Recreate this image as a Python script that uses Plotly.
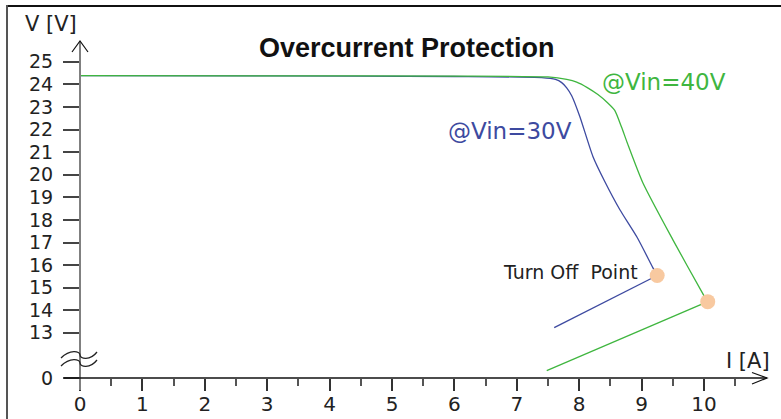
import plotly.graph_objects as go

# ---- data ----
blue_I = [0.0, 3.0, 6.0, 7.40, 7.62, 7.72, 7.80, 7.88, 8.01, 8.22, 8.41, 8.65, 8.93, 9.18, 9.25, 7.60]
blue_V = [24.39, 24.38, 24.35, 24.30, 24.22, 24.08, 23.85, 23.50, 22.58, 20.81, 19.70, 18.46, 17.22, 15.89, 15.54, 13.23]

green_I = [0.0, 3.0, 6.0, 7.50, 7.80, 7.96, 8.13, 8.30, 8.45, 8.57, 8.68, 8.77, 9.02, 9.50, 9.99, 10.06, 7.48]
green_V = [24.39, 24.38, 24.37, 24.33, 24.22, 24.10, 23.86, 23.55, 23.20, 22.85, 22.10, 21.42, 19.65, 17.13, 14.69, 14.38, 11.33]

turnoff_I = [9.25, 10.06]
turnoff_V = [15.54, 14.38]

x_ticks = [0, 1, 2, 3, 4, 5, 6, 7, 8, 9, 10]
y_tickvals = [11, 13, 14, 15, 16, 17, 18, 19, 20, 21, 22, 23, 24, 25]
y_ticktext = ["0", "13", "14", "15", "16", "17", "18", "19", "20", "21", "22", "23", "24", "25"]

# ---- layout geometry ----
W, H = 781, 419
L, R, T, B = 80, 767, 30, 378
XMIN, XMAX = 0.0, 11.01
YMIN = 11.0
YMAX = YMIN + (B - T) / 22.583


def px(x):
    return (x - L) / (R - L)


def py(y):
    return (B - y) / (B - T)


FONT = "DejaVu Sans"
TXT = "#222222"
BLUE = "#3d4aa0"
GREEN = "#3fb63f"

fig = go.Figure()
nb = len(blue_I) - 1
ng = len(green_I) - 1
fig.add_trace(go.Scatter(x=blue_I[:nb], y=blue_V[:nb], mode="lines",
                         line=dict(color=BLUE, width=1.3, shape="spline", smoothing=0.6), hoverinfo="skip"))
fig.add_trace(go.Scatter(x=blue_I[nb - 1:], y=blue_V[nb - 1:], mode="lines",
                         line=dict(color=BLUE, width=1.3), hoverinfo="skip"))
fig.add_trace(go.Scatter(x=green_I[:ng], y=green_V[:ng], mode="lines",
                         line=dict(color=GREEN, width=1.3, shape="spline", smoothing=0.6), hoverinfo="skip"))
fig.add_trace(go.Scatter(x=green_I[ng - 1:], y=green_V[ng - 1:], mode="lines",
                         line=dict(color=GREEN, width=1.3), hoverinfo="skip"))
fig.add_trace(go.Scatter(x=turnoff_I, y=turnoff_V, mode="markers",
                         marker=dict(color="#f8c9a0", size=15), hoverinfo="skip"))

shapes = []
# frame (top and left edges only; the rest lies outside the picture)
shapes.append(dict(type="line", xref="paper", yref="paper",
                   x0=px(6), x1=px(781), y0=py(6), y1=py(6),
                   line=dict(color="#111111", width=2)))
shapes.append(dict(type="line", xref="paper", yref="paper",
                   x0=px(7), x1=px(7), y0=py(5), y1=py(419),
                   line=dict(color="#555555", width=2)))
# y axis line
shapes.append(dict(type="line", xref="paper", yref="paper",
                   x0=px(80), x1=px(80), y0=py(390), y1=py(41),
                   line=dict(color="#808080", width=2)))
# y arrow
shapes.append(dict(type="path", xref="paper", yref="paper",
                   path=f"M {px(72)} {py(52)} L {px(80)} {py(41)} L {px(88)} {py(52)}",
                   line=dict(color="#111111", width=1.2)))
# x axis line
shapes.append(dict(type="line", xref="paper", yref="paper",
                   x0=px(64), x1=px(767), y0=py(378), y1=py(378),
                   line=dict(color="#111111", width=1.6)))
# x arrow
shapes.append(dict(type="path", xref="paper", yref="paper",
                   path=f"M {px(752)} {py(372.5)} L {px(767)} {py(378)} L {px(752)} {py(384)}",
                   line=dict(color="#111111", width=1.2)))
# axis break symbol
for oy in (353, 361):
    shapes.append(dict(type="path", xref="paper", yref="paper",
                       path=(f"M {px(61)} {py(oy+5)} C {px(70)} {py(oy-4)} {px(80)} {py(oy-2)} {px(80)} {py(oy+2)} "
                             f"C {px(80)} {py(oy+6)} {px(90)} {py(oy+8)} {px(97)} {py(oy-1)}"),
                       line=dict(color="#222222", width=1.3)))

annotations = [
    dict(text="<b>Overcurrent Protection</b>", x=px(407), y=py(48), xref="paper", yref="paper",
         showarrow=False, xanchor="center", yanchor="middle",
         font=dict(family="Liberation Sans", size=27, color="#111111")),
    dict(text="V [V]", x=px(51), y=py(24), xref="paper", yref="paper",
         showarrow=False, xanchor="center", yanchor="middle",
         font=dict(family=FONT, size=21, color=TXT)),
    dict(text="I [A]", x=px(748), y=py(361), xref="paper", yref="paper",
         showarrow=False, xanchor="center", yanchor="middle",
         font=dict(family=FONT, size=21, color=TXT)),
    dict(text="@Vin=40V", x=px(664), y=py(82), xref="paper", yref="paper",
         showarrow=False, xanchor="center", yanchor="middle",
         font=dict(family=FONT, size=23, color=GREEN)),
    dict(text="@Vin=30V", x=px(510), y=py(131), xref="paper", yref="paper",
         showarrow=False, xanchor="center", yanchor="middle",
         font=dict(family=FONT, size=23, color=BLUE)),
    dict(text="Turn Off  Point", x=px(570), y=py(272), xref="paper", yref="paper",
         showarrow=False, xanchor="center", yanchor="middle",
         font=dict(family=FONT, size=19, color=TXT)),
]

fig.update_layout(
    width=W, height=H, autosize=False,
    margin=dict(l=L, r=W - R, t=T, b=H - B, pad=0, autoexpand=False),
    paper_bgcolor="white", plot_bgcolor="white",
    showlegend=False,
    shapes=shapes, annotations=annotations,
    xaxis=dict(range=[XMIN, XMAX], tickvals=x_ticks, showgrid=False, zeroline=False,
               showline=False, automargin=False,
               ticks="outside", ticklen=12, tickwidth=1.5, tickcolor="#333333",
               tickfont=dict(family=FONT, size=20, color=TXT), ticklabelstandoff=-4,
               minor=dict(tickvals=[v + 0.5 for v in x_ticks], ticks="outside", ticklen=7,
                          tickwidth=1.5, tickcolor="#555555", showgrid=False),
               fixedrange=True),
    yaxis=dict(range=[YMIN, YMAX], tickvals=y_tickvals, ticktext=y_ticktext,
               showgrid=False, zeroline=False, showline=False, automargin=False,
               ticks="outside", ticklen=16, tickwidth=1.8, tickcolor="#444444",
               tickfont=dict(family=FONT, size=19, color=TXT), ticklabelstandoff=6,
               fixedrange=True),
)

fig.write_html("out.html", config={"displayModeBar": False, "responsive": False},
               post_script="document.body.style.margin='0';document.documentElement.style.overflow='hidden';document.body.style.overflow='hidden';")
